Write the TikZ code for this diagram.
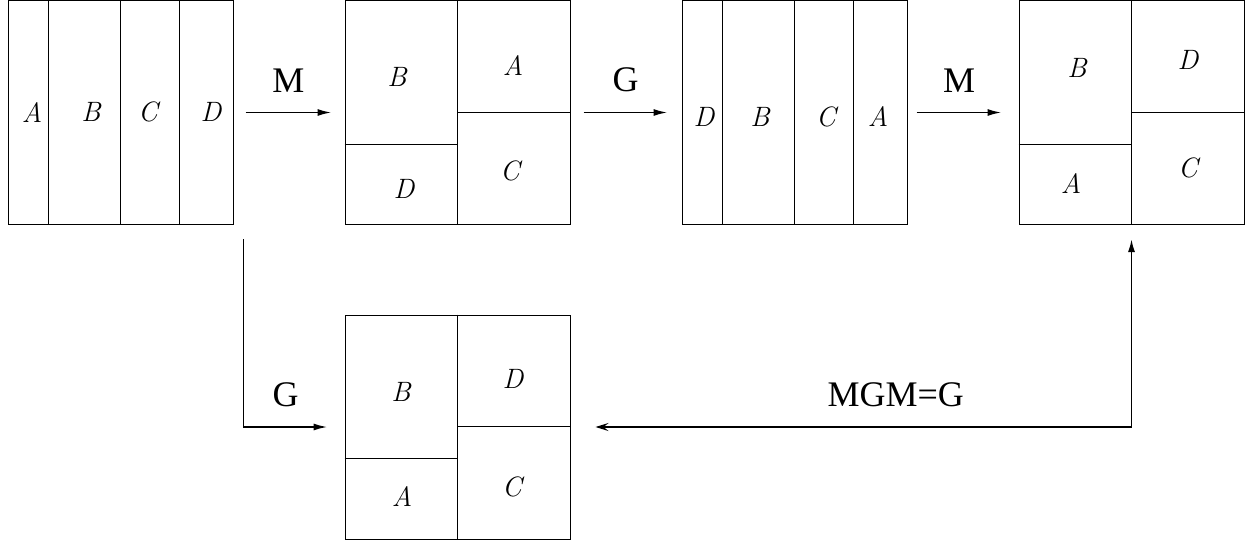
\documentclass[tikz,border=0pt]{standalone}
\usepackage{fontspec}
\newfontfamily\opfont{Liberation Serif}
\usetikzlibrary{arrows.meta,calc}

\begin{document}
\begin{tikzpicture}[x=1pt,y=-1pt,>={Latex[length=14pt,width=7pt]}]
 \tikzstyle{panel}=[draw,line width=1pt,minimum width=225pt,minimum height=224pt,inner sep=0pt]
 \tikzstyle{part}=[line width=1pt]
 \tikzstyle{piece}=[font=\itshape\fontsize{28}{30}\selectfont]
 \tikzstyle{op}=[font=\opfont\fontsize{36}{40}\selectfont]
 \tikzstyle{map}=[line width=1.8pt,->]
 \useasboundingbox (0,0) rectangle (1252,544);

 \node (b1) at (120.5,112.5) [panel] {};
 \node (b2) at (457.5,112.5) [panel] {};
 \node (b3) at (794.5,112.5) [panel] {};
 \node (b4) at (1131.5,112.5) [panel] {};
 \node (b5) at (457.5,427) [panel] {};

 % strips
 \foreach \b in {b1,b3}
  \foreach \x in {40.5,112.5,171.5}
   \draw[part] ($(\b.north west)+(\x,0)$) -- ($(\b.south west)+(\x,0)$);
 % quarters
 \foreach \b in {b2,b4,b5} {
  \draw[part] (\b.north) -- (\b.south);
  \draw[part] ($(\b.north west)+(0,144)$) -- ($(\b.north)+(0,144)$);
  \draw[part] ($(\b.north)+(0,112)$) -- ($(\b.north east)+(0,112)$);
 }

 \node (b1a) at (32,112) [piece] {A};
 \node (b1b) at (91,112) [piece] {B};
 \node (b1c) at (148,112) [piece] {C};
 \node (b1d) at (211,112) [piece] {D};

 \node (b2b) at (397,77) [piece] {B};
 \node (b2a) at (513,66) [piece] {A};
 \node (b2d) at (404,189) [piece] {D};
 \node (b2c) at (510,171) [piece] {C};

 \node (b3d) at (704,117) [piece] {D};
 \node (b3b) at (760,117) [piece] {B};
 \node (b3c) at (826,117) [piece] {C};
 \node (b3a) at (878,117) [piece] {A};

 \node (b4b) at (1077,68) [piece] {B};
 \node (b4d) at (1188,60) [piece] {D};
 \node (b4a) at (1071,183) [piece] {A};
 \node (b4c) at (1188,168) [piece] {C};

 \node (b5b) at (401,392) [piece] {B};
 \node (b5d) at (513,379) [piece] {D};
 \node (b5a) at (402,496) [piece] {A};
 \node (b5c) at (512,487) [piece] {C};

 \coordinate (g0) at ($(b1.south east)+(10,14)$);

 \draw [map] ($(b1.east)+(12,0)$) to node[op,above=16pt] {M} ($(b2.west)+(-13,0)$);
 \draw [map] ($(b2.east)+(13,0)$) to node[op,above=16pt] {G} ($(b3.west)+(-14,0)$);
 \draw [map] ($(b3.east)+(9,0)$) to node[op,above=16pt] {M} ($(b4.west)+(-17,0)$);
 \draw [map] (g0) |- node[op,pos=0.75,above=16pt] {G} ($(b5.west)+(-17,0)$);
 \draw [line width=1.8pt,{Stealth[length=13pt,width=8pt,inset=5pt]}-{Latex[length=13pt,width=7pt]}]
 	($(b5.east)+(25,0)$) -| node[op,pos=0.28,above=16pt] {MGM=G} ($(b4.south)+(0,14)$);
\end{tikzpicture}
\end{document}
